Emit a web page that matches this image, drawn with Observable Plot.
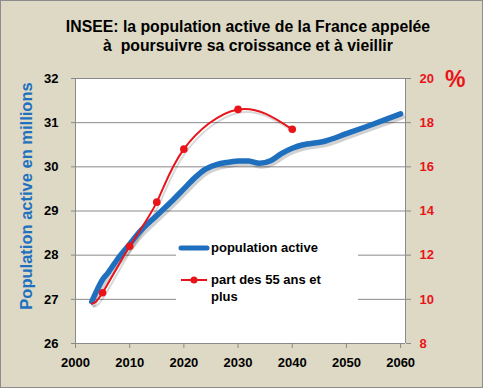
<!DOCTYPE html>
<html><head><meta charset="utf-8">
<script src="https://cdn.jsdelivr.net/npm/d3@7"></script>
<script src="https://cdn.jsdelivr.net/npm/@observablehq/plot@0.6"></script>
<style>
body{margin:0;}
#wrap{position:relative;width:483px;height:388px;background:#DDD9C4;font-family:"Liberation Sans",Arial,sans-serif;box-shadow:inset 0 0 0 1px #8c8c8c;overflow:hidden}
#chart{position:absolute;left:0;top:0}
#title{position:absolute;left:0;top:17px;width:496px;text-align:center;font-weight:bold;font-size:15.8px;line-height:19px;color:#000}
#ytitle{position:absolute;left:26px;top:196px;transform:translate(-50%,-50%) rotate(-90deg);white-space:nowrap;color:#2070C0;font-weight:bold;font-size:16.5px}
#pct{position:absolute;left:445px;top:66px;color:#E8141A;font-size:23px;font-weight:bold}
#legend{position:absolute;left:176px;top:230px;width:182px;height:82px;background:#fff}
#legend .t{position:absolute;left:35px;font-weight:bold;font-size:13px;line-height:17px;color:#000;white-space:nowrap}
</style></head>
<body>
<div id="wrap">
<div id="chart"></div>
<div id="title">INSEE: la population active de la France appelée<br>à&nbsp; poursuivre sa croissance et à vieillir</div>
<div id="ytitle">Population active en millions</div>
<div id="pct">%</div>
<div id="legend">
  <svg width="40" height="82" style="position:absolute;left:0;top:0">
    <line x1="5" x2="31" y1="18" y2="18" stroke="#1F6FBF" stroke-width="5" stroke-linecap="round"/>
    <line x1="5" x2="31" y1="50" y2="50" stroke="#E8141A" stroke-width="2"/>
    <circle cx="18" cy="50" r="3.5" fill="#E8141A"/>
  </svg>
  <div class="t" style="top:9px">population active</div>
  <div class="t" style="top:41px">part des 55 ans et<br>plus</div>
</div>
</div>
<script>
// Tick labels
const xTicks = [2000, 2010, 2020, 2030, 2040, 2050, 2060];
const leftTicks = [26, 27, 28, 29, 30, 31, 32];
const rightTickLabels = [8, 10, 12, 14, 16, 18, 20];

// Series 1: population active (millions), left axis
const popYears  = [2003, 2005, 2006, 2008, 2010, 2012, 2015, 2018, 2020, 2022, 2024, 2026, 2028, 2030, 2032, 2034, 2036, 2038, 2040, 2042, 2046, 2050, 2055, 2060];
const popValues = [26.95, 27.45, 27.6, 27.95, 28.25, 28.55, 28.9, 29.25, 29.5, 29.75, 29.95, 30.05, 30.1, 30.13, 30.13, 30.08, 30.14, 30.3, 30.42, 30.5, 30.58, 30.75, 30.97, 31.2];

// Series 2: part des 55 ans et plus (%), right axis
const partYears  = [2003, 2005, 2010, 2015, 2020, 2030, 2040];
const partValues = [9.8, 10.3, 12.4, 14.4, 16.8, 18.6, 17.7];
const partMarkerYears = [2005, 2010, 2015, 2020, 2030, 2040];

// right axis (8..20) mapped onto left scale (26..32)
const toLeft = v => 26 + (v - 8) / 2;

const pop = popYears.map((year, i) => ({year, value: popValues[i]}));
const part = partYears.map((year, i) => ({year, value: toLeft(partValues[i])}));
const partMarkers = part.filter(d => partMarkerYears.includes(d.year));

const blue = "#1F6FBF", red = "#E8141A", gray = "#8a8a8a";

const chart = Plot.plot({
  width: 483, height: 388,
  marginLeft: 75, marginRight: 78, marginTop: 78, marginBottom: 45,
  style: {background: "transparent", fontFamily: "'Liberation Sans', Arial, sans-serif", overflow: "visible"},
  x: {domain: [2000, 2060.9]},
  y: {domain: [26, 32]},
  marks: [
    Plot.frame({fill: "white", stroke: null}),
    Plot.ruleY(leftTicks.slice(1), {stroke: gray, strokeWidth: 1}),
    Plot.ruleY([26], {stroke: gray}),
    Plot.ruleX([2000, 2060.9], {stroke: gray}),
    Plot.axisY({ticks: leftTicks, tickSize: 4, tickPadding: 13, tickFormat: d => String(d), label: null,
      stroke: gray, fill: "#000", fontSize: 13, fontWeight: "bold"}),
    Plot.axisY({anchor: "right", ticks: leftTicks, tickSize: 5, tickPadding: 9,
      tickFormat: (d, i) => String(rightTickLabels[leftTicks.indexOf(d)]), label: null,
      stroke: gray, fill: red, fontSize: 13, fontWeight: "bold"}),
    Plot.axisX({ticks: xTicks, tickSize: 5, tickPadding: 9, tickFormat: d => String(d), label: null,
      stroke: gray, fill: "#000", fontSize: 13, fontWeight: "bold"}),
    // shadows
    Plot.line(pop, {x: "year", y: "value", curve: "catmull-rom", stroke: "#000", strokeOpacity: 0.18, strokeWidth: 5, dx: 2, dy: 3}),
    Plot.line(part, {x: "year", y: "value", curve: "natural", stroke: "#000", strokeOpacity: 0.15, strokeWidth: 2, dx: 2, dy: 3}),
    // series
    Plot.line(pop, {x: "year", y: "value", curve: "catmull-rom", stroke: blue, strokeWidth: 5.5, strokeLinecap: "round"}),
    Plot.line(part, {x: "year", y: "value", curve: "natural", stroke: red, strokeWidth: 2}),
    Plot.dot(partMarkers, {x: "year", y: "value", r: 3.8, fill: red, stroke: null})
  ]
});
document.getElementById("chart").appendChild(chart);
</script>
</body></html>
